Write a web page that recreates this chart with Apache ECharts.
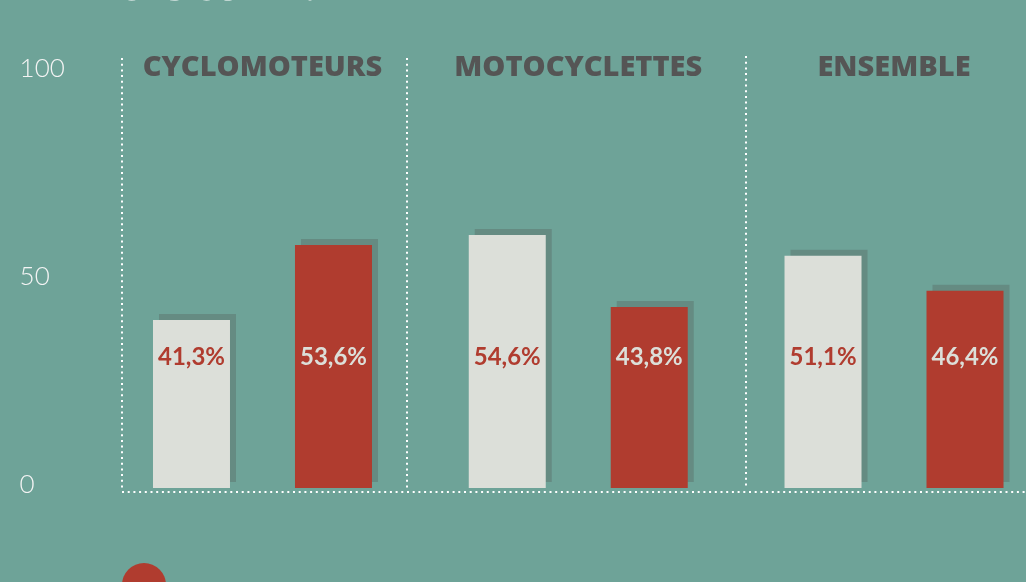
<!DOCTYPE html>
<html>
<head>
<meta charset="utf-8">
<title>En détail</title>
<script src="https://cdn.jsdelivr.net/npm/echarts@6/dist/echarts.min.js"></script>
<style>
  html, body { margin: 0; padding: 0; background: #6ea398; }
  #chart { width: 1026px; height: 582px; }
</style>
</head>
<body>
<div id="chart"></div>
<script>
// data (bar heights as drawn, labels as printed)
var categories = ['CYCLOMOTEURS', 'MOTOCYCLETTES', 'ENSEMBLE'];
var lightValues = [40.4, 60.8, 55.8];
var redValues = [58.4, 43.5, 47.4];
var lightLabels = ['41,3%', '54,6%', '51,1%'];
var redLabels = ['53,6%', '43,8%', '46,4%'];
var yTicks = [0, 50, 100];

(function() {
  var bg = '#6ea398';
  var light = '#dcdfd9';
  var red = '#b03c2f';
  var shade = '#658b82';
  var grey = '#555555';
  var dot = '#ffffff';

  var chart = echarts.init(document.getElementById('chart'), null, { renderer: 'canvas' });

  function dotted(x1, y1, x2, y2) {
    return {
      type: 'line',
      silent: true,
      shape: { x1: x1, y1: y1, x2: x2, y2: y2 },
      style: { stroke: dot, lineWidth: 2, lineDash: [2, 3.7] }
    };
  }

  var barShadow = {
    shadowColor: shade, shadowBlur: 0, shadowOffsetX: 6, shadowOffsetY: -6
  };

  chart.setOption({
    animation: false,
    backgroundColor: bg,
    title: {
      text: 'En détail :',
      left: 18, top: -61,
      textStyle: { color: '#ffffff', fontFamily: 'Lato', fontWeight: 'bold', fontSize: 68 }
    },
    legend: {
      left: 117, top: 558,
      itemWidth: 44, itemHeight: 44,
      icon: 'circle',
      data: ['Part 2'],
      formatter: function() { return ''; }
    },
    // grid runs past the right edge, as in the cropped original
    grid: { left: 104.6, width: 947.3, top: 72, height: 416, outerBoundsMode: 'none' },
    xAxis: [
      {
        type: 'category',
        data: categories,
        axisLine: { show: false },
        axisTick: { show: false },
        axisLabel: { show: false }
      },
      {
        type: 'category',
        position: 'top',
        data: categories,
        axisLine: { show: false },
        axisTick: { show: false },
        axisLabel: {
          interval: 0, hideOverlap: false,
          color: grey, fontFamily: 'Open Sans', fontWeight: 800, fontSize: 29,
          verticalAlign: 'middle', margin: 4
        }
      }
    ],
    yAxis: {
      type: 'value',
      min: yTicks[0], max: yTicks[yTicks.length - 1], interval: 50,
      axisLine: { show: false },
      axisTick: { show: false },
      splitLine: { show: false },
      axisLabel: {
        color: '#f4f4f4', fontFamily: 'Lato', fontWeight: 300, fontSize: 26,
        align: 'left', margin: 85,
        verticalAlign: 'bottom', lineHeight: 6
      }
    },
    series: [
      {
        name: 'Part 1',
        type: 'bar',
        data: lightValues,
        barWidth: 77,
        barGap: '84.4%',
        itemStyle: Object.assign({ color: light }, barShadow),
        label: {
          show: true,
          position: 'insideBottom',
          distance: 119,
          color: red, fontFamily: 'Lato', fontWeight: 'bold', fontSize: 24, lineHeight: 24,
          formatter: function(p) { return lightLabels[p.dataIndex]; }
        }
      },
      {
        name: 'Part 2',
        type: 'bar',
        data: redValues,
        barWidth: 77,
        itemStyle: Object.assign({ color: red }, barShadow),
        label: {
          show: true,
          position: 'insideBottom',
          distance: 119,
          color: light, fontFamily: 'Lato', fontWeight: 'bold', fontSize: 24, lineHeight: 24,
          formatter: function(p) { return redLabels[p.dataIndex]; }
        }
      }
    ],
    graphic: [
      dotted(122, 58, 122, 489),
      dotted(407, 58, 407, 489),
      dotted(746, 56, 746, 489),
      dotted(122, 492, 1026, 492)
    ]
  });
  window.addEventListener('resize', function() { chart.resize(); });
})();
</script>
</body>
</html>
